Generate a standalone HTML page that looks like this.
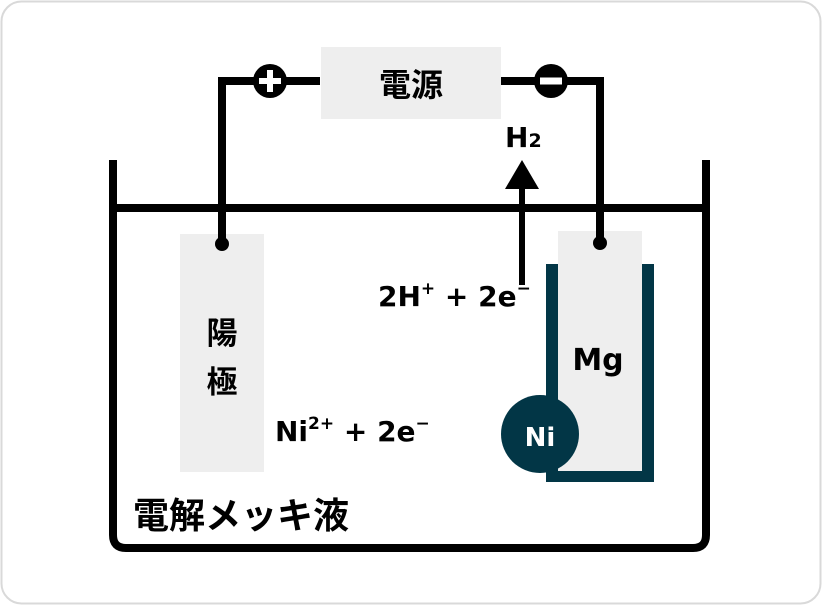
<!DOCTYPE html>
<html><head><meta charset="utf-8"><style>body{margin:0;background:#fff}</style></head><body>
<svg width="822" height="605" viewBox="0 0 822 605" xmlns="http://www.w3.org/2000/svg" font-family="'Noto Sans CJK JP','Liberation Sans',sans-serif" font-weight="bold">
<rect x="1.5" y="1.5" width="819" height="602" rx="20" fill="#fff" stroke="#d9d9d9" stroke-width="2"/>
<path d="M113 160 V535 Q113 548 126 548 H693 Q706 548 706 535 V160" fill="none" stroke="#000" stroke-width="8"/>
<line x1="113" y1="208" x2="706" y2="208" stroke="#000" stroke-width="8"/>
<rect x="180" y="234" width="84" height="238" fill="#eeeeee"/>
<rect x="552" y="270" width="96" height="206" fill="none" stroke="#023646" stroke-width="12"/>
<rect x="558" y="231" width="84" height="240" fill="#eeeeee"/>
<circle cx="540" cy="434" r="39" fill="#023646"/>
<g font-family="'DejaVu Sans',sans-serif">
<text x="540" y="446" font-size="26" fill="#fff" text-anchor="middle">Ni</text>
<text x="598" y="370" font-size="30" text-anchor="middle">Mg</text>
<text x="505" y="147" font-size="28">H<tspan font-size="19">2</tspan></text>
<text x="378" y="306" font-size="28">2H<tspan font-size="17" dy="-12">+</tspan><tspan dy="12"> + 2e</tspan><tspan font-size="17" dy="-12">−</tspan></text>
<text x="275" y="441" font-size="28">Ni<tspan font-size="17" dy="-12">2+</tspan><tspan dy="12"> + 2e</tspan><tspan font-size="17" dy="-12">−</tspan></text>
</g>
<path d="M222 244 V81 H320 M501 81 H600 V243" fill="none" stroke="#000" stroke-width="8"/>
<rect x="321" y="47" width="180" height="72" fill="#eeeeee"/>
<text x="411" y="96" font-size="32" text-anchor="middle">電源</text>
<circle cx="222" cy="244" r="7"/><circle cx="600" cy="243" r="7"/>
<circle cx="270" cy="81" r="17"/>
<path d="M270 70 V92 M259 81 H281" stroke="#fff" stroke-width="6"/>
<circle cx="551" cy="81" r="17"/>
<path d="M540 81 H562" stroke="#fff" stroke-width="7"/>
<line x1="522" y1="285" x2="522" y2="186" stroke="#000" stroke-width="6"/>
<polygon points="522,160 505,189 539,189"/>
<text x="222" y="344" font-size="31" text-anchor="middle">陽</text>
<text x="222" y="393" font-size="31" text-anchor="middle">極</text>
<text x="133" y="528" font-size="36">電解メッキ液</text>
</svg>
</body></html>
